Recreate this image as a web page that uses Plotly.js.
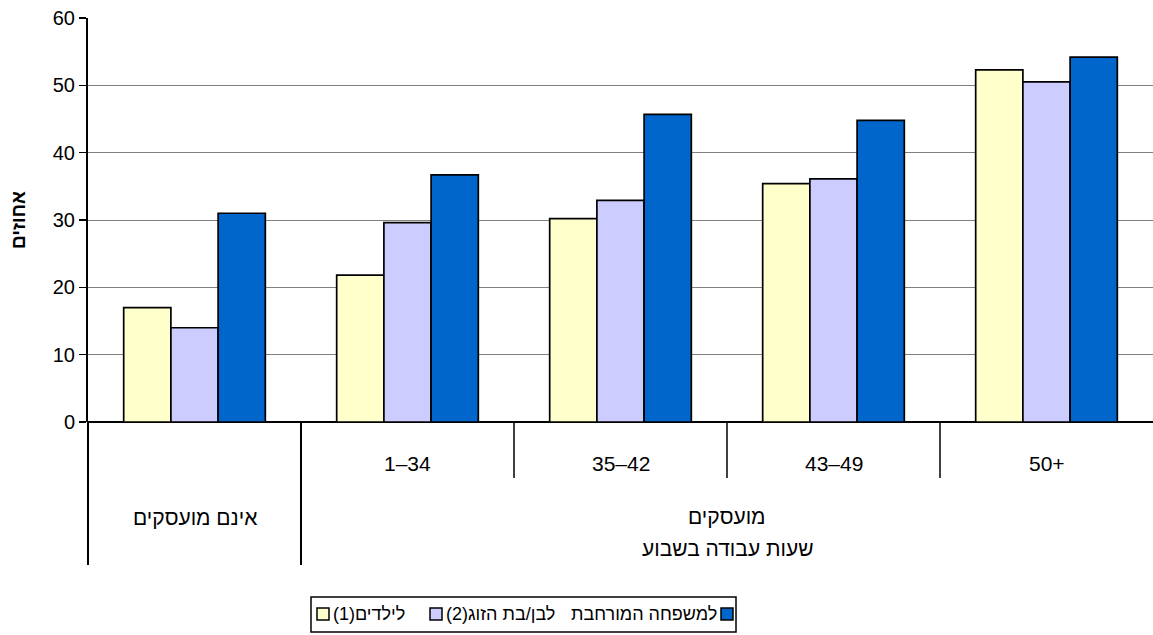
<!DOCTYPE html>
<html>
<head>
<meta charset="utf-8">
<script src="https://cdn.plot.ly/plotly-3.0.1.min.js"></script>
<style>
html,body{margin:0;padding:0;background:#fff;}
#chart{width:1153px;height:635px;}
</style>
</head>
<body>
<div id="chart"></div>
<script>
// Data
const groups = [0, 1, 2, 3, 4];
const hourLabels = ["", "1–34", "35–42", "43–49", "50+"];
const notEmployedLabel = "אינם מועסקים";
const employedLabel = "מועסקים";
const hoursTitle = "שעות עבודה בשבוע";
const seriesNames = ["לילדים(1)\u200F", "לבן/בת הזוג(2)\u200F", "למשפחה המורחבת"];
const children = [17, 21.8, 30.2, 35.4, 52.3];
const spouse = [14, 29.6, 32.9, 36.1, 50.5];
const extended = [31, 36.7, 45.7, 44.8, 54.2];
const yTitle = "אחוזים";

const colors = ["#FFFFCC", "#CCCCFF", "#0066CC"];
const font = "Liberation Sans, Arial, sans-serif";

const traces = [children, spouse, extended].map((vals, i) => ({
  type: "bar",
  x: groups,
  y: vals,
  name: seriesNames[i],
  marker: {color: colors[i], line: {color: "#000", width: 1.7}},
  hoverinfo: "none",
  showlegend: false
}));

const nG = groups.length;
const xPaper = b => (b + 0.5) / nG;
const pxX = p => (p - 88) / 1065;
const pxY = p => (422 - p) / 404;

const shapes = [];
shapes.push({type: "line", xref: "paper", yref: "paper", x0: 0, x1: 0, y0: 0, y1: pxY(565), line: {color: "#000", width: 2}});
shapes.push({type: "line", xref: "paper", yref: "paper", x0: xPaper(0.5), x1: xPaper(0.5), y0: 0, y1: pxY(565), line: {color: "#000", width: 2}});
for (let b = 1; b < nG - 1; b++) {
  shapes.push({type: "line", xref: "paper", yref: "paper", x0: xPaper(b + 0.5), x1: xPaper(b + 0.5), y0: 0, y1: pxY(478), line: {color: "#000", width: 1.5}});
}

const annotations = [];
const catFont = {family: font, size: 21, color: "#000"};
groups.forEach((g, i) => {
  if (hourLabels[i]) {
    annotations.push({xref: "x", yref: "paper", x: g, y: pxY(463), text: hourLabels[i], showarrow: false, font: catFont, xanchor: "center", yanchor: "middle"});
  }
});
annotations.push({xref: "x", yref: "paper", x: groups[0], y: pxY(517), text: notEmployedLabel, showarrow: false, font: catFont, xanchor: "center", yanchor: "middle"});
annotations.push({xref: "x", yref: "paper", x: (groups[1] + groups[nG - 1]) / 2, y: pxY(516), text: employedLabel, showarrow: false, font: catFont, xanchor: "center", yanchor: "middle"});
annotations.push({xref: "x", yref: "paper", x: (groups[1] + groups[nG - 1]) / 2, y: pxY(548), text: hoursTitle, showarrow: false, font: catFont, xanchor: "center", yanchor: "middle"});

// Manual legend
const legFont = {family: font, size: 18, color: "#000"};
shapes.push({type: "rect", xref: "paper", yref: "paper", x0: pxX(311), x1: pxX(736), y0: pxY(597), y1: pxY(632), line: {color: "#000", width: 1.5}, fillcolor: "#fff"});
const sq = (x, c) => ({type: "rect", xref: "paper", yref: "paper", x0: pxX(x), x1: pxX(x + 12), y0: pxY(608), y1: pxY(620), line: {color: "#000", width: 1.5}, fillcolor: c});
shapes.push(sq(317, colors[0]));
shapes.push(sq(430, colors[1]));
shapes.push(sq(721, colors[2]));
annotations.push({xref: "paper", yref: "paper", x: pxX(331), y: pxY(614), text: seriesNames[0], showarrow: false, font: legFont, xanchor: "left", yanchor: "middle"});
annotations.push({xref: "paper", yref: "paper", x: pxX(444), y: pxY(614), text: seriesNames[1], showarrow: false, font: legFont, xanchor: "left", yanchor: "middle"});
annotations.push({xref: "paper", yref: "paper", x: pxX(719), y: pxY(614), text: seriesNames[2], showarrow: false, font: legFont, xanchor: "right", yanchor: "middle"});

const layout = {
  width: 1153, height: 635,
  margin: {l: 88, r: 0, t: 18, b: 213},
  paper_bgcolor: "#fff", plot_bgcolor: "#fff",
  barmode: "group",
  bargap: 0.335, bargroupgap: 0,
  showlegend: false,
  xaxis: {
    range: [-0.5, 4.5], showticklabels: false, ticks: "", showgrid: false, zeroline: false,
    showline: false, fixedrange: true
  },
  yaxis: {
    range: [0, 60], dtick: 10, tick0: 0,
    showgrid: true, gridcolor: "#808080", gridwidth: 1,
    showline: true, linecolor: "#000", linewidth: 2,
    ticks: "outside", ticklen: 7, tickcolor: "#000", tickwidth: 1.5,
    tickfont: {family: font, size: 20, color: "#000"},
    zeroline: true, zerolinecolor: "#000", zerolinewidth: 2.5,
    title: {text: yTitle, font: {family: font, size: 19, color: "#000", weight: "bold"}, standoff: 22},
    fixedrange: true
  },
  shapes: shapes,
  annotations: annotations
};

Plotly.newPlot("chart", traces, layout, {displayModeBar: false, staticPlot: true});
</script>
</body>
</html>
